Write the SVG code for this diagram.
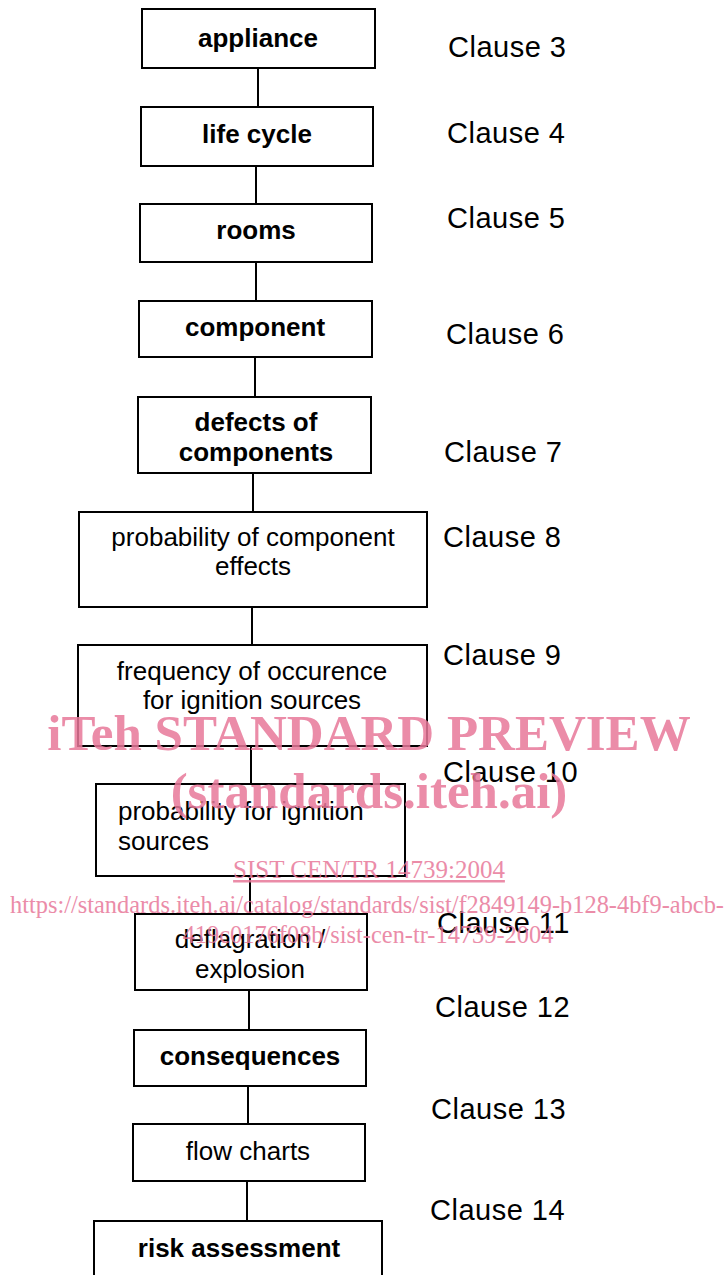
<svg xmlns="http://www.w3.org/2000/svg" width="726" height="1275" viewBox="0 0 726 1275">
<style>
.box{fill:#fff;stroke:#000;stroke-width:2}
.b{font-family:"Liberation Sans",Arial,sans-serif;font-weight:bold;font-size:26px;fill:#000;text-anchor:middle}
.r{font-family:"Liberation Sans",Arial,sans-serif;font-size:26px;fill:#000;text-anchor:middle}
.cl{font-family:"Liberation Sans",Arial,sans-serif;font-size:29px;fill:#000;letter-spacing:0.5px}
.conn{stroke:#000;stroke-width:2;fill:none}
.wm{font-family:"Liberation Serif","Times New Roman",serif;fill:#e8789a;opacity:0.85}
</style>
<rect width="726" height="1275" fill="#fff"/>
<g id="connectors">
<line class="conn" x1="258" y1="68" x2="258" y2="107"/>
<line class="conn" x1="256" y1="166" x2="256" y2="204"/>
<line class="conn" x1="256" y1="262" x2="256" y2="301"/>
<line class="conn" x1="255" y1="357" x2="255" y2="397"/>
<line class="conn" x1="253" y1="473" x2="253" y2="512"/>
<line class="conn" x1="252" y1="607" x2="252" y2="645"/>
<line class="conn" x1="251" y1="746" x2="251" y2="784"/>
<line class="conn" x1="250" y1="876" x2="250" y2="914"/>
<line class="conn" x1="249" y1="990" x2="249" y2="1030"/>
<line class="conn" x1="248" y1="1086" x2="248" y2="1124"/>
<line class="conn" x1="247" y1="1181" x2="247" y2="1221"/>
</g>
<g id="n1"><rect class="box" x="142" y="9" width="233" height="59"/><text class="b" x="258" y="47">appliance</text></g>
<g id="n2"><rect class="box" x="141" y="107" width="232" height="59"/><text class="b" x="257" y="143">life cycle</text></g>
<g id="n3"><rect class="box" x="140" y="204" width="232" height="58"/><text class="b" x="256" y="239">rooms</text></g>
<g id="n4"><rect class="box" x="139" y="301" width="233" height="56"/><text class="b" x="255" y="336">component</text></g>
<g id="n5"><rect class="box" x="138" y="397" width="233" height="76"/><text class="b" x="256" y="431">defects of</text><text class="b" x="256" y="461">components</text></g>
<g id="n6"><rect class="box" x="79" y="512" width="348" height="95"/><text class="r" x="253" y="546">probability of component</text><text class="r" x="253" y="575">effects</text></g>
<g id="n7"><rect class="box" x="78" y="645" width="349" height="101"/><text class="r" x="252" y="680">frequency of occurence</text><text class="r" x="252" y="709">for ignition sources</text></g>
<g id="n8"><rect class="box" x="96" y="784" width="309" height="92"/><text class="r" style="text-anchor:start" x="118" y="820">probability for ignition</text><text class="r" style="text-anchor:start" x="118" y="850">sources</text></g>
<g id="n9"><rect class="box" x="135" y="914" width="232" height="76"/><text class="r" x="250" y="948">deflagration /</text><text class="r" x="250" y="978">explosion</text></g>
<g id="n10"><rect class="box" x="134" y="1030" width="232" height="56"/><text class="b" x="250" y="1065">consequences</text></g>
<g id="n11"><rect class="box" x="133" y="1124" width="232" height="57"/><text class="r" x="248" y="1160">flow charts</text></g>
<g id="n12"><rect class="box" x="94" y="1221" width="288" height="60"/><text class="b" x="239" y="1257">risk assessment</text></g>
<g id="clauses">
<text class="cl" x="448" y="57">Clause 3</text>
<text class="cl" x="447" y="143">Clause 4</text>
<text class="cl" x="447" y="228">Clause 5</text>
<text class="cl" x="446" y="344">Clause 6</text>
<text class="cl" x="444" y="462">Clause 7</text>
<text class="cl" x="443" y="547">Clause 8</text>
<text class="cl" x="443" y="665">Clause 9</text>
<text class="cl" x="443" y="782">Clause 10</text>
<text class="cl" x="437" y="933">Clause 11</text>
<text class="cl" x="435" y="1017">Clause 12</text>
<text class="cl" x="431" y="1119">Clause 13</text>
<text class="cl" x="430" y="1220">Clause 14</text>
</g>
<g id="watermark">
<text class="wm" x="369" y="750" font-size="51" font-weight="bold" text-anchor="middle">iTeh STANDARD PREVIEW</text>
<text class="wm" x="369" y="808" font-size="51" font-weight="bold" text-anchor="middle">(standards.iteh.ai)</text>
<text class="wm" x="369" y="878" font-size="25" text-anchor="middle" text-decoration="underline">SIST CEN/TR 14739:2004</text>
<text class="wm" x="367" y="913" font-size="24.4" text-anchor="middle">https://standards.iteh.ai/catalog/standards/sist/f2849149-b128-4bf9-abcb-</text>
<text class="wm" x="368" y="943" font-size="24.4" text-anchor="middle">419c0176f08b/sist-cen-tr-14739-2004</text>
</g>
</svg>
